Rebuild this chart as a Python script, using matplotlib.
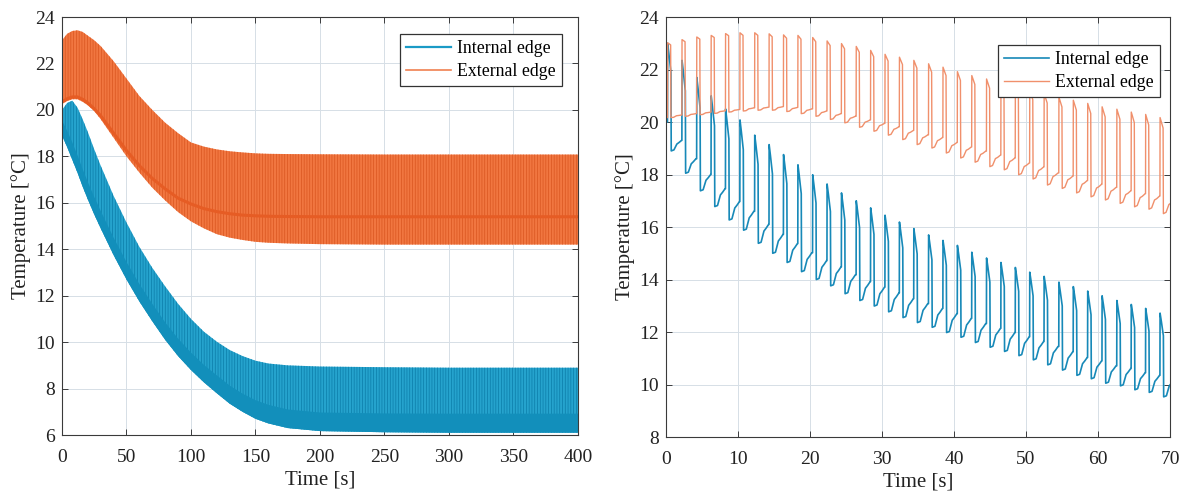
import matplotlib
matplotlib.use("Agg")
import matplotlib.pyplot as plt
from matplotlib.lines import Line2D

# ---- left panel: envelope of the fast oscillation ----
left_time = [0, 4, 8, 12, 16, 20, 25, 30, 40, 50, 60, 70, 80, 90, 100, 110,
             120, 130, 140, 150, 160, 175, 200, 250, 300, 400]
ext_high = [23.0, 23.28, 23.4, 23.43, 23.36, 23.2, 23.0, 22.75, 22.1, 21.35,
            20.6, 20.0, 19.45, 19.0, 18.6, 18.42, 18.3, 18.22, 18.17, 18.13,
            18.11, 18.1, 18.09, 18.08, 18.08, 18.08]
ext_low = [20.25, 20.38, 20.46, 20.46, 20.35, 20.2, 19.95, 19.6, 18.8, 18.0,
           17.3, 16.65, 16.1, 15.6, 15.2, 14.9, 14.65, 14.5, 14.4, 14.32,
           14.28, 14.25, 14.22, 14.2, 14.2, 14.2]
ext_mid = [20.35, 20.48, 20.56, 20.56, 20.46, 20.3, 20.05, 19.75, 19.0, 18.25,
           17.6, 17.05, 16.6, 16.2, 15.95, 15.75, 15.62, 15.53, 15.47, 15.44,
           15.42, 15.41, 15.4, 15.4, 15.4, 15.4]
int_high = [20.0, 20.3, 20.4, 20.1, 19.6, 19.05, 18.3, 17.6, 16.3, 15.15,
            14.1, 13.2, 12.4, 11.65, 11.0, 10.45, 10.02, 9.66, 9.4, 9.2,
            9.08, 9.0, 8.95, 8.92, 8.9, 8.9]
int_low = [18.9, 18.4, 17.85, 17.3, 16.7, 16.15, 15.5, 14.9, 13.75, 12.7,
           11.75, 10.9, 10.1, 9.4, 8.8, 8.27, 7.8, 7.35, 7.0, 6.7,
           6.5, 6.3, 6.17, 6.12, 6.1, 6.1]
int_dense = [19.55, 19.1, 18.6, 18.05, 17.45, 16.9, 16.25, 15.65, 14.5, 13.45,
             12.5, 11.65, 10.85, 10.15, 9.55, 9.02, 8.57, 8.13, 7.78, 7.5,
             7.3, 7.1, 6.97, 6.93, 6.92, 6.92]

# ---- right panel: one value per heating cycle (first 70 s) ----
rise_time = [0.2, 2.2, 4.25, 6.25, 8.25, 10.25, 12.3, 14.3, 16.3, 18.3, 20.35,
             22.35, 24.35, 26.4, 28.4, 30.4, 32.4, 34.4, 36.45, 38.45, 40.45,
             42.45, 44.5, 46.5, 48.5, 50.5, 52.5, 54.55, 56.55, 58.55, 60.55,
             62.6, 64.6, 66.6, 68.6]
int_peak = [23.0, 22.35, 21.7, 21.0, 20.5, 20.08, 19.5, 19.14, 18.76, 18.37,
            17.99, 17.64, 17.3, 17.0, 16.73, 16.45, 16.19, 15.94, 15.7, 15.49,
            15.3, 15.04, 14.82, 14.65, 14.46, 14.28, 14.12, 13.9, 13.73, 13.56,
            13.38, 13.2, 13.05, 12.9, 12.72]
int_trough = [18.9, 18.05, 17.38, 16.78, 16.27, 15.88, 15.38, 15.0, 14.65, 14.3,
              14.0, 13.76, 13.46, 13.2, 12.99, 12.77, 12.55, 12.36, 12.18, 11.98,
              11.8, 11.6, 11.42, 11.26, 11.1, 10.94, 10.75, 10.55, 10.35, 10.22,
              10.05, 9.95, 9.8, 9.7, 9.53]
int_step = [0.4, 0.55, 0.62, 0.68, 0.7, 0.72, 0.72, 0.72, 0.72, 0.72, 0.72,
            0.72, 0.72, 0.72, 0.72, 0.72, 0.72, 0.72, 0.72, 0.72, 0.72, 0.72,
            0.72, 0.72, 0.72, 0.7, 0.7, 0.7, 0.68, 0.68, 0.66, 0.66, 0.65,
            0.65, 0.65]
ext_peak = [23.02, 23.14, 23.24, 23.3, 23.37, 23.4, 23.4, 23.36, 23.32, 23.3,
            23.22, 23.09, 22.99, 22.88, 22.73, 22.58, 22.47, 22.35, 22.22, 22.09,
            21.92, 21.77, 21.64, 21.5, 21.34, 21.22, 21.09, 20.95, 20.83, 20.71,
            20.58, 20.49, 20.38, 20.29, 20.17]
ext_trough = [20.17, 20.22, 20.28, 20.33, 20.38, 20.42, 20.45, 20.45, 20.4, 20.32,
              20.22, 20.1, 19.97, 19.8, 19.65, 19.5, 19.33, 19.14, 19.01, 18.82,
              18.63, 18.47, 18.3, 18.18, 17.99, 17.83, 17.6, 17.47, 17.3, 17.15,
              17.03, 16.9, 16.77, 16.68, 16.51]
ext_step = [0.1, 0.1, 0.1, 0.1, 0.1, 0.12, 0.12, 0.14, 0.16, 0.18, 0.2, 0.22,
            0.25, 0.28, 0.3, 0.32, 0.35, 0.37, 0.4, 0.4, 0.42, 0.42, 0.44, 0.45,
            0.45, 0.46, 0.46, 0.47, 0.47, 0.48, 0.48, 0.48, 0.5, 0.5, 0.5]

BLUE = "#1789b8"
ORANGE = "#f0906c"
SERIF = "Liberation Serif"


def internal_wave(start):
    t, y = [0.0], [start]
    for k in range(len(rise_time)):
        t0, p, lo, s = rise_time[k], int_peak[k], int_trough[k], int_step[k]
        a = p - lo
        t += [t0, t0 + 0.02, t0 + 0.2, t0 + 0.48, t0 + 0.52, t0 + 0.9,
              t0 + 1.3, t0 + 1.6, t0 + 1.95]
        y += [y[-1], p, p - 0.1 * a, p - 0.27 * a, lo, lo + 0.04,
              lo + 0.65 * s, lo + 0.8 * s, lo + s]
    return t, y


def external_wave(start):
    t, y = [0.0], [start]
    for k in range(len(rise_time)):
        t0, p, lo, s = rise_time[k], ext_peak[k], ext_trough[k], ext_step[k]
        t += [t0, t0 + 0.02, t0 + 0.44, t0 + 0.48, t0 + 0.85,
              t0 + 1.25, t0 + 1.55, t0 + 1.95]
        y += [y[-1], p, p - 0.8 * s, lo, lo + 0.1 * s,
              lo + 0.7 * s, lo + 0.8 * s, lo + s]
    return t, y


def style_axes(ax, xmax, ymin, xticks, yticks):
    ax.set_xlim(0, xmax)
    ax.set_ylim(ymin, 24)
    ax.set_xticks(xticks)
    ax.set_yticks(yticks)
    ax.set_axisbelow(True)
    ax.grid(True, color="#d6dee6", lw=0.7)
    for sp in ax.spines.values():
        sp.set_color("#3a3a3a")
        sp.set_linewidth(0.8)
    ax.tick_params(direction="in", top=True, right=True, length=4, width=0.6,
                   labelsize=14, colors="#222222")
    ax.tick_params(axis="x", pad=10)
    ax.tick_params(axis="y", pad=5)
    ax.set_xlabel("Time [s]", fontsize=15, color="#222222", labelpad=3)
    ax.set_ylabel("Temperature [°C]", fontsize=15, color="#222222", labelpad=3)


def add_legend(ax, handles, labels, anchor):
    leg = ax.legend(handles, labels, loc="upper right", bbox_to_anchor=anchor,
                    fancybox=False, edgecolor="#333333", framealpha=1,
                    fontsize=12.8, handlelength=2.5, borderpad=0.35,
                    labelspacing=0.3, handletextpad=0.35, borderaxespad=0)
    leg.get_frame().set_linewidth(0.9)


def main():
    plt.rcParams["font.family"] = [SERIF, "DejaVu Serif"]
    plt.rcParams["hatch.linewidth"] = 0.5

    fig = plt.figure(figsize=(11.9, 4.97), dpi=100)
    ax1 = fig.add_axes([0.0521, 0.1247, 0.4336, 0.841])
    ax2 = fig.add_axes([0.5597, 0.1207, 0.4235, 0.845])

    # left: 400 s run, cycles too dense to separate
    ax1.fill_between(left_time, int_low, int_high, facecolor="#25a3cd",
                     edgecolor="#0a7ca8", hatch="||||||", linewidth=0)
    ax1.fill_between(left_time, int_low, int_dense, facecolor="#128fbb",
                     linewidth=0)
    ax1.fill_between(left_time, ext_low, ext_high, facecolor="#f17640",
                     edgecolor="#d9551f", hatch="||||||", linewidth=0)
    ax1.plot(left_time, ext_mid, color="#e65c24", lw=2.2)
    style_axes(ax1, 400, 6, range(0, 401, 50), range(6, 25, 2))
    handles = [Line2D([], [], color="#1a9ac6", lw=1.6),
               Line2D([], [], color="#f08050", lw=1.2)]
    add_legend(ax1, handles, ["Internal edge", "External edge"], (0.969, 0.959))

    # right: first 70 s
    ti, yi = internal_wave(20.0)
    te, ye = external_wave(20.17)
    l1, = ax2.plot(ti, yi, color=BLUE, lw=1.2)
    l2, = ax2.plot(te, ye, color=ORANGE, lw=1.0)
    style_axes(ax2, 70, 8, range(0, 71, 10), range(8, 25, 2))
    add_legend(ax2, [l1, l2], ["Internal edge", "External edge"], (0.98, 0.933))

    fig.savefig("out.png", dpi=100)


if __name__ == "__main__":
    main()
